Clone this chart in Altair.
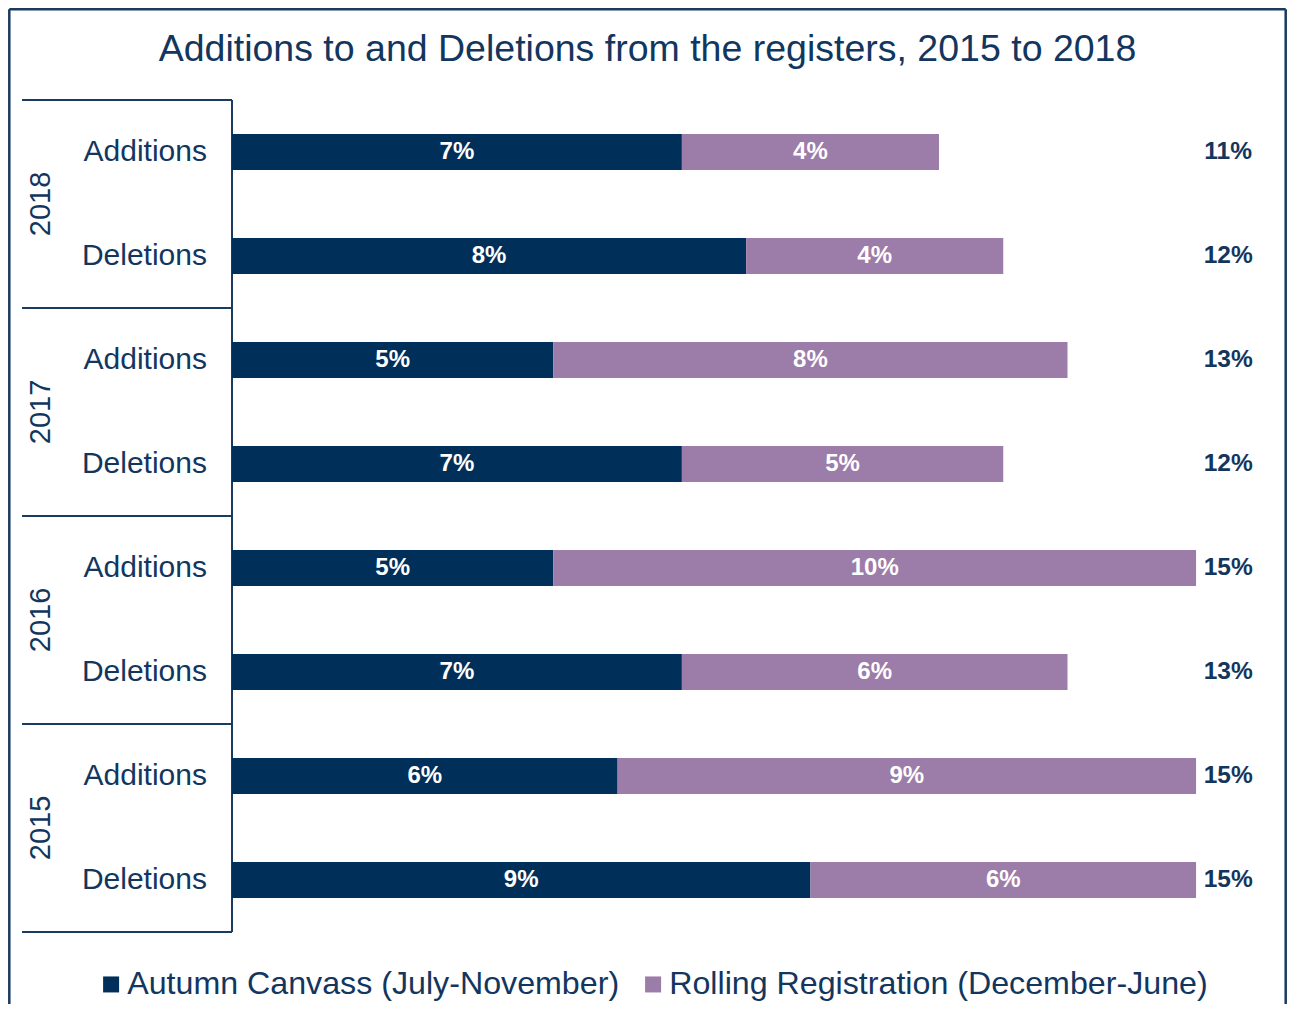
import altair as alt
import pandas as pd

# ---- data ----
years = ["2018", "2018", "2017", "2017", "2016", "2016", "2015", "2015"]
kinds = ["Additions", "Deletions", "Additions", "Deletions",
         "Additions", "Deletions", "Additions", "Deletions"]
autumn = [7, 8, 5, 7, 5, 7, 6, 9]
rolling = [4, 4, 8, 5, 10, 6, 9, 6]
series = ["Autumn Canvass (July-November)", "Rolling Registration (December-June)"]
group_years = ["2018", "2017", "2016", "2015"]
title_text = "Additions to and Deletions from the registers, 2015 to 2018"

NAVY = "#00305a"
PURPLE = "#9c7ca8"
TEXT = "#12365e"
LINE = "#1a3a60"
FONT = "Liberation Sans"

# ---- geometry of the layout (scale domains) ----
W, H = 1279, 996
PX_PER_PCT = 64.27
PX_PER_ROW = 104.0
XMIN = -224 / PX_PER_PCT
XMAX = XMIN + W / PX_PER_PCT
YMIN = -144 / PX_PER_ROW
YMAX = YMIN + H / PX_PER_ROW
HALF_BAR = 18 / PX_PER_ROW
INSET_X = 1.3 / PX_PER_PCT
INSET_Y = 1.3 / PX_PER_ROW

xs = alt.Scale(domain=[XMIN, XMAX], nice=False, zero=False)
ys = alt.Scale(domain=[YMIN, YMAX], nice=False, zero=False, reverse=True)

# ---- tables ----
rows = []
for i, (yr, k, a, r) in enumerate(zip(years, kinds, autumn, rolling)):
    rows.append(dict(row=i, year=yr, kind=k, series=series[0], start=0, end=a, value=a))
    rows.append(dict(row=i, year=yr, kind=k, series=series[1], start=a, end=a + r, value=r))
bars_df = pd.DataFrame(rows)
bars_df["label"] = bars_df["value"].astype(str) + "%"
bars_df["mid"] = (bars_df["start"] + bars_df["end"]) / 2
bars_df["y0"] = bars_df["row"] - HALF_BAR
bars_df["y1"] = bars_df["row"] + HALF_BAR

tot_df = pd.DataFrame({
    "row": list(range(len(years))),
    "total": [a + r for a, r in zip(autumn, rolling)],
})
tot_df["label"] = tot_df["total"].astype(str) + "%"
tot_df["tx"] = 15.5

cat_df = pd.DataFrame({"row": list(range(len(kinds))), "kind": kinds})
cat_df["tx"] = -25 / PX_PER_PCT

yr_df = pd.DataFrame({"year": group_years,
                      "yc": [2 * g + 0.5 for g in range(len(group_years))]})
yr_df["tx"] = -191 / PX_PER_PCT

sep_df = pd.DataFrame({"yb": [2 * g - 0.5 for g in range(len(group_years) + 1)]})
sep_df["x0"] = -210 / PX_PER_PCT
sep_df["x1"] = 0.0

vert_df = pd.DataFrame({"x0": [0.0], "y0": [-0.5], "y1": [len(years) - 0.5]})

border_df = pd.DataFrame({
    "xa": [XMIN + INSET_X, XMIN + INSET_X, XMAX - INSET_X],
    "xb": [XMAX - INSET_X, XMIN + INSET_X, XMAX - INSET_X],
    "ya": [YMIN + INSET_Y, YMIN + INSET_Y, YMIN + INSET_Y],
    "yb": [YMIN + INSET_Y, YMAX, YMAX],
})

# ---- layers ----
bars = alt.Chart(bars_df).mark_rect().encode(
    x=alt.X("start:Q", scale=xs, axis=None),
    x2="end:Q",
    y=alt.Y("y0:Q", scale=ys, axis=None),
    y2="y1:Q",
    color=alt.Color("series:N",
                    scale=alt.Scale(domain=series, range=[NAVY, PURPLE]),
                    legend=alt.Legend(title=None, orient="none", direction="horizontal",
                                      legendX=87, legendY=960,
                                      symbolType="square", symbolSize=256,
                                      symbolStrokeWidth=0, labelFontSize=32.2,
                                      labelFont=FONT, labelColor=TEXT,
                                      labelOffset=0, columnPadding=17, padding=0,
                                      labelLimit=800)),
)

bar_labels = alt.Chart(bars_df).mark_text(
    color="white", fontSize=24, fontWeight="bold", font=FONT, baseline="middle"
).encode(
    x=alt.X("mid:Q", scale=xs, axis=None),
    y=alt.Y("row:Q", scale=ys, axis=None),
    text="label:N",
)

totals = alt.Chart(tot_df).mark_text(
    color=TEXT, fontSize=24.5, fontWeight="bold", font=FONT, baseline="middle", align="center"
).encode(
    x=alt.X("tx:Q", scale=xs, axis=None),
    y=alt.Y("row:Q", scale=ys, axis=None),
    text="label:N",
)

cats = alt.Chart(cat_df).mark_text(
    color=TEXT, fontSize=30, font=FONT, align="right", baseline="middle"
).encode(
    x=alt.X("tx:Q", scale=xs, axis=None),
    y=alt.Y("row:Q", scale=ys, axis=None),
    text="kind:N",
)

yrs = alt.Chart(yr_df).mark_text(
    color=TEXT, fontSize=29, font=FONT, align="center", baseline="middle", angle=270
).encode(
    x=alt.X("tx:Q", scale=xs, axis=None),
    y=alt.Y("yc:Q", scale=ys, axis=None),
    text="year:N",
)

seps = alt.Chart(sep_df).mark_rule(color=LINE, strokeWidth=2).encode(
    x=alt.X("x0:Q", scale=xs, axis=None),
    x2="x1:Q",
    y=alt.Y("yb:Q", scale=ys, axis=None),
)

vert = alt.Chart(vert_df).mark_rule(color=LINE, strokeWidth=2).encode(
    x=alt.X("x0:Q", scale=xs, axis=None),
    y=alt.Y("y0:Q", scale=ys, axis=None),
    y2="y1:Q",
)

border = alt.Chart(border_df).mark_rule(color=LINE, strokeWidth=2.5).encode(
    x=alt.X("xa:Q", scale=xs, axis=None),
    x2="xb:Q",
    y=alt.Y("ya:Q", scale=ys, axis=None),
    y2="yb:Q",
)

chart = alt.layer(border, seps, vert, bars, bar_labels, totals, cats, yrs).properties(
    width=W, height=H,
    padding=0,
    title=alt.TitleParams(text=title_text, fontSize=37.5, font=FONT, color=TEXT,
                          fontWeight="normal", anchor="middle", offset=-60),
).configure_view(stroke=None)

chart.save("out.html", embed_options={"renderer": "svg", "actions": False})
